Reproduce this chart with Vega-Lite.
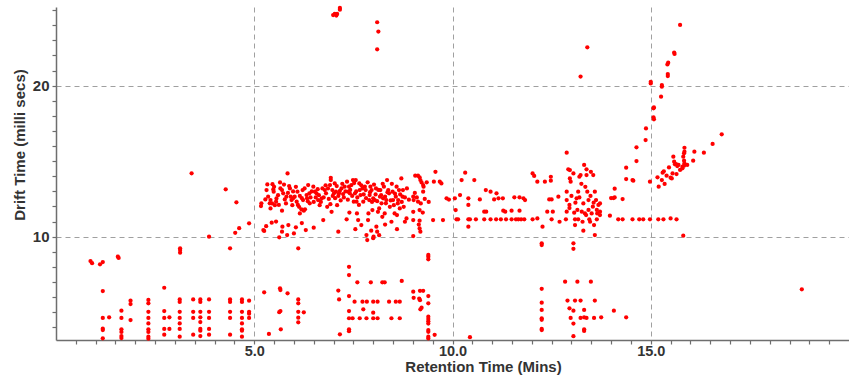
{
"$schema": "https://vega.github.io/schema/vega-lite/v6.json",
"width": 793, "height": 333,
"autosize": {"type": "none"},
"padding": {"left": 56, "top": 7, "right": 0, "bottom": 41},
"background": "white",
"config": {"view": {"stroke": null}, "font": "Liberation Sans"},
"data": {"values": [
{"rt":0.87,"dt":8.39},{"rt":0.91,"dt":8.25},{"rt":1.11,"dt":8.17},{"rt":1.18,"dt":8.32},{"rt":1.56,"dt":8.68},{"rt":1.58,"dt":8.59},
{"rt":1.18,"dt":6.4},{"rt":1.18,"dt":4.62},{"rt":1.34,"dt":4.66},{"rt":1.18,"dt":3.91},{"rt":1.18,"dt":3.82},{"rt":1.18,"dt":3.27},
{"rt":1.65,"dt":5.1},{"rt":1.65,"dt":4.62},{"rt":1.65,"dt":3.87},{"rt":1.65,"dt":3.69},{"rt":1.65,"dt":3.42},{"rt":1.65,"dt":3.29},
{"rt":1.88,"dt":5.76},{"rt":1.88,"dt":5.54},{"rt":1.88,"dt":4.48},
{"rt":2.33,"dt":5.81},{"rt":2.33,"dt":5.59},{"rt":2.33,"dt":5.03},{"rt":2.33,"dt":4.62},{"rt":2.33,"dt":4.26},{"rt":2.33,"dt":3.87},{"rt":2.33,"dt":3.69},{"rt":2.33,"dt":3.38},{"rt":2.33,"dt":3.25},
{"rt":2.73,"dt":6.62},{"rt":2.73,"dt":5.08},{"rt":2.73,"dt":4.62},{"rt":2.73,"dt":3.89},{"rt":2.73,"dt":3.51},
{"rt":2.86,"dt":4.66},{"rt":2.86,"dt":3.89},
{"rt":3.13,"dt":9.23},{"rt":3.13,"dt":9.12},{"rt":3.13,"dt":8.94},
{"rt":3.12,"dt":5.85},{"rt":3.12,"dt":5.68},{"rt":3.12,"dt":5.03},{"rt":3.12,"dt":4.62},{"rt":3.12,"dt":4.26},{"rt":3.12,"dt":3.89},{"rt":3.12,"dt":3.38},
{"rt":3.46,"dt":5.85},{"rt":3.46,"dt":5.03},{"rt":3.46,"dt":4.62},{"rt":3.46,"dt":3.51},
{"rt":3.64,"dt":5.85},{"rt":3.64,"dt":5.68},{"rt":3.64,"dt":5.03},{"rt":3.64,"dt":4.66},{"rt":3.64,"dt":4.35},{"rt":3.64,"dt":3.89},{"rt":3.64,"dt":3.78},{"rt":3.64,"dt":3.42},
{"rt":3.86,"dt":10.0},{"rt":3.86,"dt":5.85},{"rt":3.86,"dt":5.03},{"rt":3.86,"dt":4.62},{"rt":3.86,"dt":3.89},{"rt":3.86,"dt":3.51},
{"rt":4.39,"dt":9.23},{"rt":4.39,"dt":5.85},{"rt":4.39,"dt":5.68},{"rt":4.39,"dt":5.03},{"rt":4.39,"dt":4.62},{"rt":4.39,"dt":3.51},
{"rt":4.69,"dt":5.85},{"rt":4.69,"dt":5.68},{"rt":4.69,"dt":5.03},{"rt":4.69,"dt":4.62},{"rt":4.69,"dt":4.26},{"rt":4.69,"dt":3.87},{"rt":4.69,"dt":3.78},{"rt":4.69,"dt":3.38},
{"rt":4.87,"dt":5.76},{"rt":4.87,"dt":5.03},{"rt":4.87,"dt":4.9},{"rt":4.87,"dt":4.62},
{"rt":4.52,"dt":10.26},{"rt":4.62,"dt":10.56},{"rt":5.25,"dt":10.38},{"rt":5.25,"dt":6.32},{"rt":5.37,"dt":3.56},
{"rt":3.42,"dt":14.2},{"rt":4.28,"dt":13.14},{"rt":4.55,"dt":12.28},{"rt":4.87,"dt":10.89},
{"rt":5.17,"dt":12.03},{"rt":5.18,"dt":12.21},{"rt":5.23,"dt":10.44},{"rt":5.28,"dt":12.47},{"rt":5.31,"dt":13.09},{"rt":5.33,"dt":13.46},
{"rt":5.39,"dt":12.21},{"rt":5.41,"dt":12.43},{"rt":5.41,"dt":11.87},{"rt":5.44,"dt":10.93},{"rt":5.46,"dt":13.48},{"rt":5.48,"dt":13.13},
{"rt":5.49,"dt":12.98},{"rt":5.52,"dt":12.09},{"rt":5.55,"dt":12.32},{"rt":5.56,"dt":12.53},{"rt":5.63,"dt":9.96},{"rt":5.65,"dt":13.59},
{"rt":5.66,"dt":13.2},{"rt":5.7,"dt":13.09},{"rt":5.73,"dt":12.87},{"rt":5.7,"dt":11.72},{"rt":5.7,"dt":10.33},{"rt":5.71,"dt":10.66},
{"rt":5.77,"dt":12.47},{"rt":5.81,"dt":12.65},{"rt":5.84,"dt":14.19},{"rt":5.88,"dt":13.35},{"rt":5.9,"dt":13.2},{"rt":5.86,"dt":10.77},
{"rt":5.83,"dt":10.11},{"rt":5.94,"dt":12.43},{"rt":5.96,"dt":12.09},{"rt":5.98,"dt":12.54},{"rt":6.0,"dt":10.22},{"rt":6.02,"dt":12.65},
{"rt":6.05,"dt":10.62},{"rt":6.07,"dt":12.32},{"rt":6.09,"dt":12.98},{"rt":6.13,"dt":11.98},{"rt":6.15,"dt":11.54},{"rt":6.19,"dt":11.81},
{"rt":6.22,"dt":13.09},{"rt":6.23,"dt":12.43},{"rt":6.25,"dt":11.72},{"rt":6.28,"dt":11.81},{"rt":6.3,"dt":10.44},{"rt":6.32,"dt":12.76},
{"rt":6.33,"dt":12.54},{"rt":6.36,"dt":13.42},{"rt":6.39,"dt":12.87},{"rt":6.4,"dt":12.21},{"rt":6.49,"dt":13.31},{"rt":6.53,"dt":12.98},
{"rt":6.57,"dt":12.87},{"rt":6.61,"dt":12.43},{"rt":6.65,"dt":12.09},{"rt":6.7,"dt":12.54},{"rt":6.72,"dt":13.2},{"rt":6.74,"dt":11.1},
{"rt":6.78,"dt":13.09},{"rt":6.81,"dt":12.87},{"rt":6.84,"dt":11.98},{"rt":6.86,"dt":13.2},{"rt":6.91,"dt":13.42},{"rt":6.93,"dt":13.9},
{"rt":6.93,"dt":13.75},{"rt":6.95,"dt":11.65},{"rt":6.97,"dt":13.09},{"rt":7.01,"dt":12.87},{"rt":7.03,"dt":13.53},{"rt":7.06,"dt":12.98},
{"rt":7.09,"dt":12.09},{"rt":7.12,"dt":10.33},{"rt":7.14,"dt":12.87},{"rt":7.16,"dt":13.04},{"rt":7.2,"dt":13.2},{"rt":7.24,"dt":12.82},
{"rt":7.28,"dt":13.31},{"rt":7.33,"dt":11.15},{"rt":7.34,"dt":13.64},{"rt":7.37,"dt":12.98},{"rt":7.39,"dt":13.31},{"rt":7.41,"dt":12.87},
{"rt":7.45,"dt":13.42},{"rt":7.49,"dt":13.75},{"rt":7.51,"dt":12.32},{"rt":7.54,"dt":12.87},{"rt":7.56,"dt":13.75},{"rt":7.58,"dt":12.32},
{"rt":7.59,"dt":11.54},{"rt":7.62,"dt":11.1},{"rt":7.65,"dt":13.53},{"rt":7.66,"dt":13.09},{"rt":7.68,"dt":12.76},{"rt":7.7,"dt":10.77},
{"rt":7.73,"dt":13.2},{"rt":7.75,"dt":12.32},{"rt":7.79,"dt":13.31},{"rt":7.81,"dt":13.09},{"rt":7.83,"dt":10.11},{"rt":7.85,"dt":9.78},
{"rt":7.87,"dt":11.1},{"rt":7.88,"dt":11.54},{"rt":7.9,"dt":12.43},{"rt":7.91,"dt":12.76},{"rt":7.93,"dt":13.31},{"rt":7.96,"dt":13.09},
{"rt":7.98,"dt":11.76},{"rt":8.0,"dt":12.54},{"rt":8.01,"dt":10.0},{"rt":8.04,"dt":12.43},{"rt":8.07,"dt":13.2},{"rt":8.08,"dt":10.66},
{"rt":8.1,"dt":10.33},{"rt":8.12,"dt":11.65},{"rt":8.15,"dt":11.87},{"rt":8.17,"dt":12.65},{"rt":8.18,"dt":13.09},{"rt":8.21,"dt":12.21},
{"rt":8.23,"dt":11.32},{"rt":8.25,"dt":12.54},{"rt":8.27,"dt":13.31},{"rt":8.29,"dt":11.54},{"rt":8.32,"dt":12.21},{"rt":8.33,"dt":12.43},
{"rt":8.35,"dt":13.75},{"rt":8.38,"dt":13.09},{"rt":8.4,"dt":12.87},{"rt":8.42,"dt":11.98},{"rt":8.46,"dt":10.99},{"rt":8.49,"dt":12.98},
{"rt":8.5,"dt":12.43},{"rt":8.52,"dt":12.09},{"rt":8.54,"dt":11.54},{"rt":8.57,"dt":12.65},{"rt":8.59,"dt":13.31},{"rt":8.6,"dt":11.43},
{"rt":8.63,"dt":12.43},{"rt":8.65,"dt":13.09},{"rt":8.67,"dt":11.87},{"rt":8.71,"dt":13.86},{"rt":8.74,"dt":12.65},{"rt":8.75,"dt":13.09},
{"rt":8.77,"dt":11.98},{"rt":8.8,"dt":10.99},{"rt":8.84,"dt":11.21},{"rt":9.01,"dt":12.65},{"rt":9.01,"dt":11.65},{"rt":9.01,"dt":11.1},
{"rt":9.01,"dt":10.04},{"rt":9.02,"dt":12.43},{"rt":9.06,"dt":14.04},{"rt":9.13,"dt":14.04},{"rt":9.17,"dt":13.93},{"rt":9.19,"dt":13.75},
{"rt":9.22,"dt":13.59},{"rt":9.26,"dt":13.42},{"rt":9.27,"dt":13.31},{"rt":9.13,"dt":12.32},{"rt":9.17,"dt":11.76},{"rt":9.17,"dt":11.06},
{"rt":9.17,"dt":10.55},{"rt":9.19,"dt":10.33},{"rt":9.26,"dt":12.98},{"rt":9.51,"dt":11.1},{"rt":9.53,"dt":13.64},{"rt":9.57,"dt":14.3},
{"rt":9.68,"dt":13.64},{"rt":9.72,"dt":13.53},{"rt":9.76,"dt":11.1},{"rt":9.85,"dt":12.54},{"rt":9.91,"dt":12.46},{"rt":10.06,"dt":12.54},
{"rt":10.08,"dt":11.76},{"rt":10.1,"dt":11.15},{"rt":10.14,"dt":11.15},
{"rt":5.35,"dt":12.65},{"rt":5.45,"dt":12.2},{"rt":5.5,"dt":13.3},{"rt":5.6,"dt":12.75},{"rt":5.62,"dt":12.1},{"rt":5.75,"dt":13.45},
{"rt":5.8,"dt":12.2},{"rt":5.85,"dt":12.9},{"rt":5.92,"dt":12.65},{"rt":5.98,"dt":13.0},{"rt":5.55,"dt":11.0},{"rt":5.3,"dt":10.7},
{"rt":6.05,"dt":13.3},{"rt":6.1,"dt":12.1},{"rt":6.15,"dt":12.7},{"rt":6.2,"dt":12.55},{"rt":6.27,"dt":13.2},{"rt":6.35,"dt":12.35},
{"rt":6.42,"dt":12.6},{"rt":6.45,"dt":13.0},{"rt":6.5,"dt":12.3},{"rt":6.55,"dt":12.6},{"rt":6.6,"dt":13.15},{"rt":6.63,"dt":12.75},
{"rt":6.68,"dt":12.3},{"rt":6.75,"dt":12.6},{"rt":6.8,"dt":13.4},{"rt":6.88,"dt":12.5},{"rt":6.92,"dt":12.15},{"rt":6.98,"dt":12.7},
{"rt":6.5,"dt":10.6},{"rt":6.2,"dt":10.9},
{"rt":7.04,"dt":12.55},{"rt":7.08,"dt":13.35},{"rt":7.12,"dt":12.7},{"rt":7.18,"dt":12.4},{"rt":7.22,"dt":13.5},{"rt":7.26,"dt":12.6},
{"rt":7.3,"dt":13.0},{"rt":7.36,"dt":12.45},{"rt":7.42,"dt":13.1},{"rt":7.47,"dt":12.7},{"rt":7.52,"dt":13.55},{"rt":7.57,"dt":13.0},
{"rt":7.6,"dt":12.6},{"rt":7.64,"dt":12.1},{"rt":7.7,"dt":13.4},{"rt":7.76,"dt":12.8},{"rt":7.82,"dt":12.55},{"rt":7.86,"dt":13.6},
{"rt":7.92,"dt":12.95},{"rt":7.97,"dt":12.3},{"rt":7.4,"dt":11.6},{"rt":7.55,"dt":10.5},{"rt":7.95,"dt":10.4},
{"rt":8.02,"dt":13.45},{"rt":8.06,"dt":12.8},{"rt":8.1,"dt":12.35},{"rt":8.13,"dt":13.1},{"rt":8.2,"dt":12.75},{"rt":8.24,"dt":13.5},
{"rt":8.3,"dt":12.65},{"rt":8.36,"dt":12.95},{"rt":8.44,"dt":12.4},{"rt":8.47,"dt":13.5},{"rt":8.55,"dt":12.85},{"rt":8.62,"dt":12.2},
{"rt":8.68,"dt":12.8},{"rt":8.72,"dt":12.3},{"rt":8.8,"dt":12.6},{"rt":8.85,"dt":13.2},{"rt":8.9,"dt":12.45},{"rt":8.3,"dt":10.8},
{"rt":8.6,"dt":10.5},{"rt":8.15,"dt":10.1},{"rt":8.0,"dt":9.9},
{"rt":9.05,"dt":12.9},{"rt":9.1,"dt":12.6},{"rt":9.2,"dt":12.2},{"rt":9.25,"dt":11.6},{"rt":9.3,"dt":12.5},{"rt":9.35,"dt":13.6},{"rt":9.4,"dt":12.3},{"rt":9.15,"dt":10.8},
{"rt":5.65,"dt":6.58},{"rt":5.66,"dt":6.47},{"rt":5.63,"dt":5.0},{"rt":5.66,"dt":5.08},{"rt":5.67,"dt":3.87},{"rt":5.84,"dt":6.25},
{"rt":6.11,"dt":5.85},{"rt":6.11,"dt":5.59},{"rt":6.11,"dt":5.03},{"rt":6.11,"dt":4.64},{"rt":6.11,"dt":4.33},{"rt":6.25,"dt":4.99},{"rt":6.11,"dt":9.23},
{"rt":7.12,"dt":6.43},{"rt":7.14,"dt":5.85},{"rt":7.16,"dt":3.54},
{"rt":7.39,"dt":8.01},{"rt":7.39,"dt":7.46},{"rt":7.39,"dt":6.07},{"rt":7.39,"dt":5.08},{"rt":7.39,"dt":4.6},{"rt":7.39,"dt":3.87},{"rt":7.39,"dt":3.74},{"rt":7.48,"dt":4.6},
{"rt":7.6,"dt":6.98},
{"rt":7.53,"dt":5.7},{"rt":7.73,"dt":5.7},{"rt":7.84,"dt":5.7},{"rt":8.0,"dt":5.7},{"rt":8.11,"dt":5.7},{"rt":8.4,"dt":5.7},{"rt":8.57,"dt":5.7},{"rt":8.67,"dt":5.7},
{"rt":7.75,"dt":5.19},{"rt":8.0,"dt":4.97},
{"rt":7.66,"dt":4.6},{"rt":7.83,"dt":4.6},{"rt":8.0,"dt":4.6},{"rt":8.11,"dt":4.6},{"rt":8.46,"dt":4.6},{"rt":8.67,"dt":4.6},
{"rt":7.94,"dt":6.98},{"rt":8.23,"dt":6.98},{"rt":8.29,"dt":6.98},{"rt":8.72,"dt":7.07},
{"rt":9.01,"dt":6.36},{"rt":9.18,"dt":6.42},{"rt":9.26,"dt":6.42},{"rt":9.02,"dt":5.95},{"rt":9.16,"dt":5.9},{"rt":9.18,"dt":5.8},
{"rt":9.19,"dt":5.19},{"rt":9.22,"dt":5.3},
{"rt":9.39,"dt":8.79},{"rt":9.39,"dt":8.68},{"rt":9.39,"dt":8.5},{"rt":9.39,"dt":6.07},{"rt":9.39,"dt":5.59},{"rt":9.39,"dt":4.7},{"rt":9.39,"dt":4.55},
{"rt":9.39,"dt":4.4},{"rt":9.39,"dt":4.25},{"rt":9.39,"dt":3.82},{"rt":9.39,"dt":3.7},{"rt":9.39,"dt":3.38},{"rt":9.39,"dt":3.26},{"rt":9.55,"dt":3.5},
{"rt":10.19,"dt":12.76},{"rt":10.23,"dt":13.75},{"rt":10.32,"dt":14.24},{"rt":10.4,"dt":12.54},{"rt":10.4,"dt":12.1},{"rt":10.4,"dt":11.15},
{"rt":10.44,"dt":11.15},{"rt":10.4,"dt":10.66},{"rt":10.55,"dt":13.75},{"rt":10.59,"dt":11.15},{"rt":10.69,"dt":12.47},{"rt":10.8,"dt":11.66},
{"rt":10.85,"dt":11.66},{"rt":10.8,"dt":11.15},{"rt":10.84,"dt":13.09},{"rt":10.96,"dt":11.15},{"rt":10.96,"dt":12.98},{"rt":11.05,"dt":12.47},
{"rt":11.1,"dt":11.15},{"rt":11.11,"dt":12.87},{"rt":11.16,"dt":12.54},{"rt":11.22,"dt":11.15},{"rt":11.27,"dt":12.54},{"rt":11.28,"dt":11.72},
{"rt":11.33,"dt":11.66},{"rt":11.35,"dt":11.15},{"rt":11.49,"dt":11.72},{"rt":11.49,"dt":11.15},{"rt":11.56,"dt":12.61},{"rt":11.6,"dt":11.15},
{"rt":11.66,"dt":11.15},{"rt":11.69,"dt":12.61},{"rt":11.69,"dt":11.72},{"rt":11.73,"dt":11.15},{"rt":11.79,"dt":12.54},{"rt":11.83,"dt":12.43},
{"rt":11.81,"dt":11.15},{"rt":12.02,"dt":14.19},{"rt":12.06,"dt":14.02},{"rt":12.14,"dt":13.64},{"rt":12.02,"dt":11.15},{"rt":12.14,"dt":11.21},
{"rt":12.27,"dt":10.66},{"rt":12.25,"dt":9.56},{"rt":12.25,"dt":9.45},{"rt":12.33,"dt":13.64},{"rt":12.39,"dt":11.66},{"rt":12.44,"dt":12.47},
{"rt":12.48,"dt":13.97},{"rt":12.48,"dt":13.71},{"rt":12.53,"dt":11.66},{"rt":12.5,"dt":11.15},{"rt":12.5,"dt":12.47},{"rt":12.67,"dt":12.65},
{"rt":12.7,"dt":10.99},{"rt":12.88,"dt":15.56},{"rt":12.88,"dt":12.98},{"rt":12.88,"dt":12.43},{"rt":12.88,"dt":11.66},{"rt":12.86,"dt":11.15},
{"rt":12.92,"dt":14.46},{"rt":12.96,"dt":14.41},{"rt":12.96,"dt":13.86},{"rt":12.98,"dt":13.64},{"rt":13.05,"dt":14.19},{"rt":13.07,"dt":11.59},
{"rt":13.09,"dt":11.15},{"rt":13.09,"dt":10.77},{"rt":13.13,"dt":12.54},{"rt":13.15,"dt":11.77},{"rt":13.17,"dt":12.98},{"rt":13.17,"dt":11.15},
{"rt":13.2,"dt":13.97},{"rt":13.23,"dt":14.08},{"rt":13.26,"dt":11.66},{"rt":13.28,"dt":10.99},{"rt":13.3,"dt":10.4},{"rt":13.32,"dt":14.75},
{"rt":13.34,"dt":11.54},{"rt":13.37,"dt":11.43},{"rt":13.38,"dt":14.46},{"rt":13.38,"dt":14.08},{"rt":13.4,"dt":12.98},{"rt":13.43,"dt":12.43},
{"rt":13.43,"dt":11.77},{"rt":13.45,"dt":11.15},{"rt":13.47,"dt":10.99},{"rt":13.49,"dt":14.3},{"rt":13.51,"dt":11.54},{"rt":13.54,"dt":11.99},
{"rt":13.55,"dt":14.08},{"rt":13.57,"dt":10.77},{"rt":13.59,"dt":12.98},{"rt":13.59,"dt":10.11},{"rt":13.62,"dt":12.43},{"rt":13.64,"dt":11.77},
{"rt":13.64,"dt":11.15},{"rt":13.65,"dt":11.54},{"rt":13.68,"dt":12.1},{"rt":13.05,"dt":9.56},{"rt":13.05,"dt":9.2},
{"rt":12.95,"dt":12.1},{"rt":13.0,"dt":12.7},{"rt":13.1,"dt":12.25},{"rt":13.2,"dt":12.6},{"rt":13.3,"dt":12.2},{"rt":13.35,"dt":13.3},{"rt":13.48,"dt":12.7},{"rt":13.56,"dt":12.25},{"rt":13.25,"dt":13.5},{"rt":12.95,"dt":11.9},
{"rt":15.74,"dt":24.02},{"rt":15.59,"dt":22.19},{"rt":15.6,"dt":22.1},{"rt":15.44,"dt":21.52},{"rt":15.42,"dt":21.41},{"rt":15.43,"dt":20.77},
{"rt":15.43,"dt":20.64},{"rt":15.0,"dt":20.26},{"rt":15.0,"dt":20.15},{"rt":15.28,"dt":20.04},{"rt":15.28,"dt":19.93},{"rt":15.26,"dt":19.27},
{"rt":15.08,"dt":18.56},{"rt":15.07,"dt":18.5},{"rt":15.07,"dt":17.9},{"rt":15.08,"dt":17.77},{"rt":14.88,"dt":17.17},{"rt":14.87,"dt":16.4},
{"rt":14.64,"dt":15.92},{"rt":14.64,"dt":15.01},{"rt":14.38,"dt":14.57},{"rt":14.38,"dt":13.82},{"rt":14.54,"dt":13.75},{"rt":14.56,"dt":13.71},
{"rt":14.09,"dt":13.18},{"rt":14.0,"dt":12.56},{"rt":14.09,"dt":12.6},{"rt":14.06,"dt":12.56},{"rt":14.29,"dt":12.49},{"rt":13.72,"dt":12.2},
{"rt":13.72,"dt":11.66},{"rt":13.72,"dt":11.43},{"rt":13.97,"dt":11.39},{"rt":14.18,"dt":11.15},{"rt":14.29,"dt":11.15},{"rt":14.54,"dt":11.15},
{"rt":14.71,"dt":11.15},{"rt":14.81,"dt":11.15},{"rt":14.98,"dt":11.15},{"rt":15.19,"dt":11.15},{"rt":15.32,"dt":11.15},{"rt":15.5,"dt":11.21},
{"rt":15.65,"dt":11.15},{"rt":15.82,"dt":10.07},{"rt":14.98,"dt":13.64},
{"rt":15.17,"dt":13.93},{"rt":15.2,"dt":13.31},{"rt":15.28,"dt":13.75},{"rt":15.3,"dt":14.24},{"rt":15.33,"dt":14.33},{"rt":15.35,"dt":13.49},
{"rt":15.4,"dt":14.04},{"rt":15.46,"dt":14.59},{"rt":15.5,"dt":13.91},{"rt":15.53,"dt":13.86},{"rt":15.55,"dt":14.19},{"rt":15.57,"dt":15.3},
{"rt":15.59,"dt":14.97},{"rt":15.61,"dt":14.79},{"rt":15.64,"dt":14.81},{"rt":15.65,"dt":14.15},{"rt":15.67,"dt":14.68},{"rt":15.7,"dt":14.75},
{"rt":15.74,"dt":14.42},{"rt":15.8,"dt":14.53},{"rt":15.8,"dt":14.64},{"rt":15.82,"dt":15.3},{"rt":15.84,"dt":15.03},{"rt":15.84,"dt":15.52},
{"rt":15.85,"dt":15.89},{"rt":15.85,"dt":15.63},{"rt":15.85,"dt":14.86},{"rt":15.84,"dt":14.7},{"rt":15.92,"dt":14.75},{"rt":16.07,"dt":15.03},
{"rt":16.1,"dt":15.63},{"rt":16.34,"dt":15.56},{"rt":16.56,"dt":16.14},{"rt":16.79,"dt":16.78},
{"rt":10.44,"dt":3.35},{"rt":12.25,"dt":6.55},{"rt":12.25,"dt":5.63},{"rt":12.25,"dt":5.15},{"rt":12.25,"dt":4.6},{"rt":12.25,"dt":4.5},
{"rt":12.25,"dt":3.89},{"rt":12.25,"dt":3.82},{"rt":12.84,"dt":7.02},{"rt":13.15,"dt":7.02},{"rt":13.49,"dt":7.02},{"rt":12.9,"dt":5.77},
{"rt":13.09,"dt":5.77},{"rt":13.23,"dt":5.77},{"rt":13.59,"dt":5.77},{"rt":12.95,"dt":5.26},{"rt":13.05,"dt":5.1},{"rt":13.32,"dt":5.15},
{"rt":14.07,"dt":5.1},{"rt":12.98,"dt":4.62},{"rt":13.23,"dt":4.62},{"rt":13.32,"dt":4.66},{"rt":13.38,"dt":4.62},{"rt":13.57,"dt":4.62},
{"rt":13.75,"dt":4.66},{"rt":14.38,"dt":4.66},{"rt":13.05,"dt":4.25},{"rt":13.32,"dt":3.87},{"rt":13.32,"dt":3.76},{"rt":13.05,"dt":3.41},
{"rt":6.99,"dt":24.68},{"rt":7.03,"dt":24.75},{"rt":7.07,"dt":24.64},{"rt":7.09,"dt":24.75},{"rt":7.16,"dt":25.15},{"rt":7.16,"dt":25.03},
{"rt":8.1,"dt":24.2},{"rt":8.13,"dt":23.58},{"rt":8.1,"dt":22.41},{"rt":13.4,"dt":22.54},{"rt":13.23,"dt":20.6},
{"rt":18.81,"dt":6.52}
]},
"mark": {"type": "circle", "color": "#ff0000", "size": 18, "opacity": 1},
"encoding": {
  "x": {"field": "rt", "type": "quantitative",
    "scale": {"domain": [0, 20], "nice": false, "zero": false},
    "axis": {"title": "Retention Time (Mins)",
      "values": [0.5,1,1.5,2,2.5,3,3.5,4,4.5,5,5.5,6,6.5,7,7.5,8,8.5,9,9.5,10,10.5,11,11.5,12,12.5,13,13.5,14,14.5,15,15.5,16,16.5,17,17.5,18,18.5,19,19.5],
      "labelExpr": "datum.value % 5 === 0 ? format(datum.value, '.1f') : ''",
      "labelOverlap": false, "labelFlush": false,
      "grid": true,
      "gridOpacity": {"condition": {"test": "datum.value % 5 === 0", "value": 1}, "value": 0},
      "gridDash": [5, 4], "gridColor": "#a0a0a0", "gridWidth": 1,
      "domainColor": "#6e6e6e", "domainWidth": 1.5,
      "tickColor": "#6e6e6e", "tickSize": 4, "tickWidth": 1.2,
      "labelFont": "Liberation Sans", "labelFontWeight": "bold", "labelFontSize": 14.5, "labelColor": "#333333", "labelPadding": 0,
      "titleFont": "Liberation Sans", "titleFontWeight": "bold", "titleFontSize": 15, "titleColor": "#333333",
      "titleX": 427, "titleY": 19, "titleBaseline": "top"}},
  "y": {"field": "dt", "type": "quantitative",
    "scale": {"domain": [3.16, 25.21], "nice": false, "zero": false},
    "axis": {"title": "Drift Time (milli secs)",
      "values": [4,5,6,7,8,9,10,11,12,13,14,15,16,17,18,19,20,21,22,23,24,25],
      "labelExpr": "datum.value % 10 === 0 ? format(datum.value, 'd') : ''",
      "labelOverlap": false, "labelFlush": false,
      "grid": true,
      "gridOpacity": {"condition": {"test": "datum.value % 10 === 0", "value": 1}, "value": 0},
      "gridDash": [5, 4], "gridColor": "#a0a0a0", "gridWidth": 1,
      "domainColor": "#6e6e6e", "domainWidth": 1.5,
      "tickColor": "#6e6e6e", "tickSize": 4, "tickWidth": 1.2,
      "labelFont": "Liberation Sans", "labelFontWeight": "bold", "labelFontSize": 15, "labelColor": "#333333", "labelPadding": 3,
      "titleFont": "Liberation Sans", "titleFontWeight": "bold", "titleFontSize": 15, "titleColor": "#333333", "titlePadding": 5, "titleY": 137.5}}
}
}
